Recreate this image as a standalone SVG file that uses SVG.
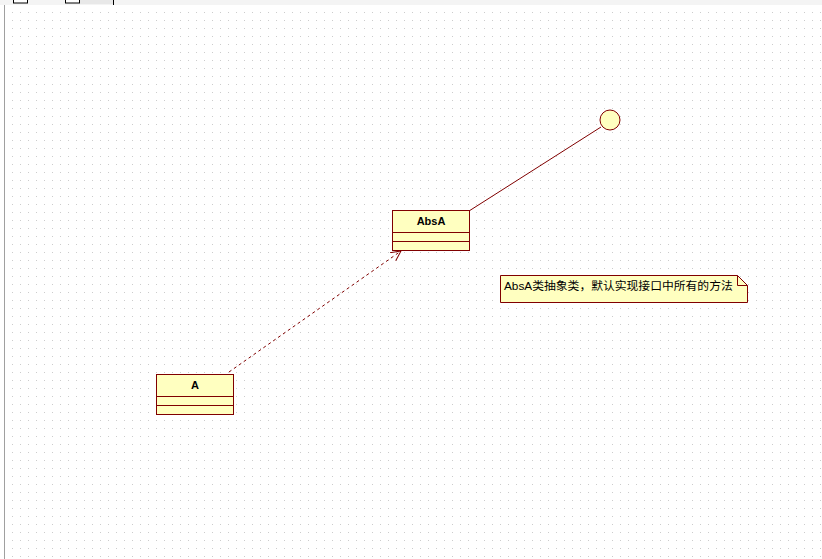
<svg xmlns="http://www.w3.org/2000/svg" width="822" height="559" viewBox="0 0 822 559">
<defs>
<pattern id="grid" x="0" y="0" width="8" height="8" patternUnits="userSpaceOnUse">
<rect x="4" y="4" width="1" height="1" fill="#cccccc"/>
</pattern>
<marker id="open" markerWidth="12" markerHeight="12" refX="10" refY="5" orient="auto" markerUnits="userSpaceOnUse">
<path d="M0,0 L10,5 L0,10" fill="none" stroke="#800000" stroke-width="1"/>
</marker>
<style>
.cls{fill:#ffffc0;stroke:#800000;stroke-width:1}
.t{font-family:"Liberation Sans","Noto Sans CJK SC",sans-serif;font-size:11px;fill:#000}
.n{font-size:11.8px}
.b{font-weight:bold}
.c{stroke:#800000;stroke-width:1;fill:none}
</style>
</defs>
<rect width="822" height="559" fill="#ffffff"/>
<rect x="5" y="5" width="817" height="554" fill="url(#grid)"/>
<rect x="0" y="0" width="822" height="5" fill="#f4f4f4"/>
<line x1="4.5" y1="5" x2="4.5" y2="559" stroke="#a0a0a0"/>
<rect x="13.5" y="-3" width="14" height="6" fill="#ffffff" stroke="#000"/>
<rect x="65.5" y="-3" width="14" height="6" fill="#ffffff" stroke="#000"/>
<rect x="80" y="0" width="33" height="4" fill="#e8e8e8"/>
<line x1="113.5" y1="0" x2="113.5" y2="5" stroke="#000"/>
<g id="connectors">
<line class="c" x1="469" y1="211" x2="601" y2="127"/>
<line class="c" x1="229" y1="372" x2="401" y2="251" stroke-dasharray="3,3" marker-end="url(#open)"/>
</g>
<g id="AbsA">
<rect class="cls" x="392.5" y="210.5" width="77" height="40"/>
<line class="c" x1="392.5" y1="232.5" x2="469.5" y2="232.5"/>
<line class="c" x1="392.5" y1="241.5" x2="469.5" y2="241.5"/>
<text class="t b" x="431" y="225" text-anchor="middle">AbsA</text>
</g>
<g id="A">
<rect class="cls" x="156.5" y="374.5" width="77" height="40"/>
<line class="c" x1="156.5" y1="396.5" x2="233.5" y2="396.5"/>
<line class="c" x1="156.5" y1="405.5" x2="233.5" y2="405.5"/>
<text class="t b" x="195" y="389" text-anchor="middle">A</text>
</g>
<g id="interface">
<circle cx="610" cy="120" r="10" fill="#ffffc0" stroke="#800000"/>
</g>
<g id="note">
<path class="cls" d="M500.5,275.5 H737.5 L747.5,285.5 V302.5 H500.5 Z"/>
<path class="c" d="M737.5,275.5 V285.5 H747.5"/>
<text class="t n" x="504" y="290">AbsA类抽象类，默认实现接口中所有的方法</text>
</g>
</svg>
